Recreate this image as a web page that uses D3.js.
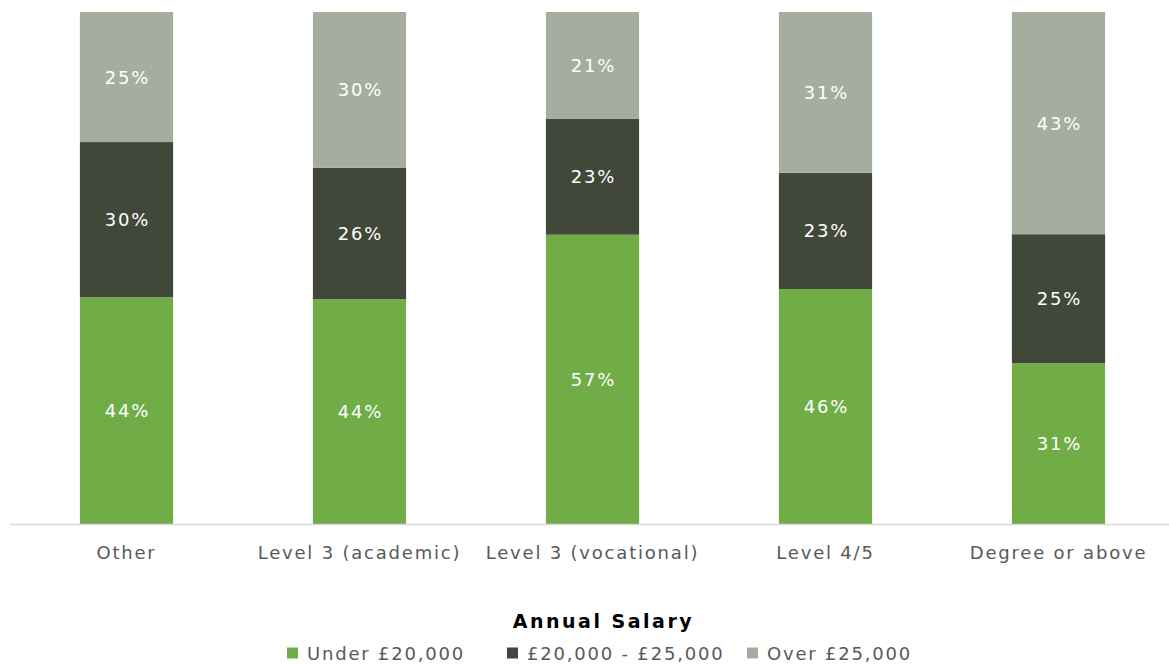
<!DOCTYPE html>
<html>
<head>
<meta charset="utf-8">
<script src="https://cdn.jsdelivr.net/npm/d3@7"></script>
<style>
  html, body { margin: 0; padding: 0; background: #fff; }
  svg { display: block; }
  text { font-family: "DejaVu Sans", Verdana, sans-serif; }
</style>
</head>
<body>
<svg id="chart" width="1169" height="664"></svg>
<script>
const categories = ["Other", "Level 3 (academic)", "Level 3 (vocational)", "Level 4/5", "Degree or above"];
const seriesNames = ["Under £20,000", "£20,000 - £25,000", "Over £25,000"];
const under20k = [44.3, 43.9, 56.5, 45.9, 31.4];
const from20to25k = [30.3, 25.7, 22.6, 22.7, 25.2];
const over25k = [25.4, 30.4, 20.9, 31.4, 43.4];
const colors = ["#70AD47", "#41483A", "#A5AE9E"];
const axisTitle = "Annual Salary";

const svg = d3.select("#chart");
const W = 1169, H = 664;
const plot = { left: 10, right: 1175, top: 12, bottom: 524 };
const FS = "18px", LS = "1.8px";

const rows = categories.map((c, i) => ({ cat: c, s0: under20k[i], s1: from20to25k[i], s2: over25k[i] }));
const stack = d3.stack().keys(["s0", "s1", "s2"]);
const series = stack(rows);

const x = d3.scaleBand().domain(categories).range([plot.left, plot.right]).paddingInner(0.6).paddingOuter(0.3);
const y = d3.scaleLinear().domain([0, 100]).range([plot.bottom, plot.top]);

const g = svg.append("g");

series.forEach((s, si) => {
  const layer = g.append("g");
  layer.selectAll("rect").data(s).join("rect")
    .attr("x", d => x(d.data.cat))
    .attr("width", x.bandwidth())
    .attr("y", d => y(d[1]))
    .attr("height", d => y(d[0]) - y(d[1]))
    .attr("fill", colors[si]);
  layer.selectAll("text").data(s).join("text")
    .attr("x", d => x(d.data.cat) + x.bandwidth() / 2 + 1)
    .attr("y", d => (y(d[0]) + y(d[1])) / 2)
    .attr("dy", "0.36em")
    .attr("text-anchor", "middle")
    .attr("fill", "#ffffff")
    .style("font-size", FS)
    .style("letter-spacing", LS)
    .text(d => Math.round(d[1] - d[0]) + "%");
});

// axis
const xAxis = d3.axisBottom(x).tickSize(0).tickPadding(0);
const ax = svg.append("g").attr("transform", `translate(0,${plot.bottom})`).call(xAxis);
ax.select(".domain").attr("d", `M${plot.left},0.5H${W}`).attr("stroke", "#d9d9d9").attr("stroke-width", 1.5);
ax.selectAll(".tick text")
  .attr("y", 35)
  .attr("dy", 0)
  .attr("fill", "#595959")
  .style("font-family", "'DejaVu Sans', Verdana, sans-serif")
  .style("font-size", FS)
  .style("letter-spacing", LS);

// axis title
svg.append("text")
  .attr("x", (plot.left + W) / 2 + 14)
  .attr("y", 628)
  .attr("text-anchor", "middle")
  .attr("fill", "#000")
  .style("font-size", "19px")
  .style("font-weight", "bold")
  .style("letter-spacing", "2.5px")
  .text(axisTitle);

// legend
const legendX = [287, 507, 747];
const lg = svg.append("g");
seriesNames.forEach((n, i) => {
  const it = lg.append("g").attr("transform", `translate(${legendX[i]},647.5)`);
  it.append("rect").attr("width", 11).attr("height", 11).attr("fill", colors[i]);
  it.append("text").attr("x", 20).attr("y", 12.5)
    .attr("fill", "#595959")
    .style("font-size", FS)
    .style("letter-spacing", LS)
    .text(n);
});
</script>
</body>
</html>
